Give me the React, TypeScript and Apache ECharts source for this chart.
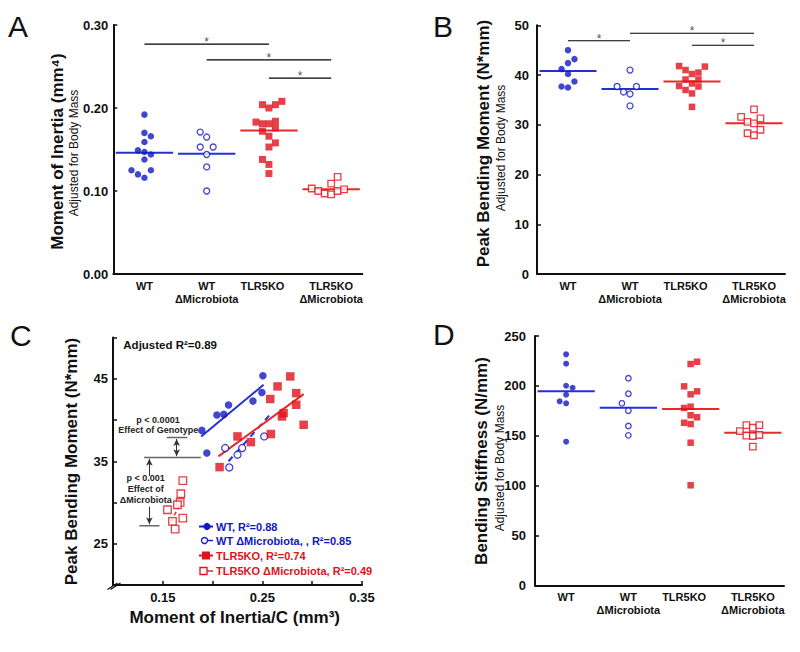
import React, { useEffect, useRef } from 'react';
import * as echarts from 'echarts';

// ---------- data ----------
const groups = ['WT', 'WT\nΔMicrobiota', 'TLR5KO', 'TLR5KO\nΔMicrobiota'];

// Panel A – Moment of inertia  ([jitter slot, value])
const moiWT = [[0, 0.192], [0, 0.170], [1, 0.166], [0, 0.159], [-1, 0.149], [0, 0.147], [1, 0.144], [0, 0.138], [-2, 0.125], [-1, 0.120], [0, 0.116], [1, 0.125]];
const moiWTdM = [[-1, 0.171], [0, 0.165], [-1, 0.153], [1, 0.153], [0, 0.144], [0, 0.129], [0, 0.100]];
const moiKO = [[-1, 0.204], [0, 0.200], [1, 0.204], [2, 0.208], [-2, 0.183], [-1, 0.181], [0, 0.181], [1, 0.184], [-1, 0.172], [1, 0.176], [0, 0.166], [1, 0.158], [0, 0.153], [-1, 0.138], [0, 0.132], [0, 0.121]];
const moiKOdM = [[-3, 0.103], [-2, 0.100], [-1, 0.097], [0, 0.096], [1, 0.100], [2, 0.102], [0, 0.109], [1, 0.117]];
const moiMeans = [0.146, 0.145, 0.173, 0.102];
const moiSig = [[1, 3, 0.277], [2, 4, 0.258], [3, 4, 0.236]];
const moiTicks = { min: 0, max: 0.3, interval: 0.1 };

// Panel B – Peak bending moment
const pbmWT = [[0, 45.0], [0, 42.4], [1, 43.2], [-1, 41.2], [0, 40.2], [1, 38.7], [-1, 37.7], [0, 37.5]];
const pbmWTdM = [[0, 41.0], [-2, 37.7], [-1, 36.6], [0, 36.2], [1, 37.7], [0, 33.8]];
const pbmKO = [[-2, 41.8], [-1, 41.0], [0, 40.2], [1, 40.5], [2, 41.7], [-1, 39.1], [1, 39.1], [-2, 37.8], [0, 38.3], [1, 37.7], [-1, 37.0], [0, 36.3], [0, 33.6]];
const pbmKOdM = [[-2, 31.6], [-1, 30.6], [0, 33.1], [0, 30.3], [1, 31.3], [-1, 28.3], [0, 27.9], [1, 29.0]];
const pbmMeans = [40.8, 37.2, 38.7, 30.3];
const pbmSig = [[1, 2, 46.9], [2, 4, 48.4], [3, 4, 46.0]];
const pbmTicks = { min: 0, max: 50, interval: 10 };

// Panel C – Peak bending moment vs Moment of inertia/C
const cWT = [[0.1892, 38.74], [0.1942, 35.99], [0.2043, 40.60], [0.2113, 40.68], [0.2160, 41.81], [0.2405, 42.29], [0.2495, 43.34], [0.2505, 45.36]];
const cWTdM = [[0.2126, 36.6], [0.2167, 34.25], [0.2250, 35.79], [0.2297, 36.6], [0.2518, 38.01]];
const cKO = [[0.2070, 34.29], [0.2250, 38.01], [0.2384, 37.32], [0.2579, 42.54], [0.2585, 38.30], [0.2652, 44.07], [0.2696, 40.43], [0.2713, 40.84], [0.2780, 45.28], [0.2840, 43.26], [0.2840, 41.85], [0.2914, 39.42]];
const cKOdM = [[0.1701, 32.64], [0.1681, 31.06], [0.1674, 30.01], [0.1647, 29.73], [0.1547, 29.12], [0.1701, 28.11], [0.1597, 27.71], [0.1624, 26.78]];
const cFitWT = [[0.1885, 38.0], [0.2512, 44.27]];
const cFitWTdM = [[0.216, 35.0], [0.258, 40.7]];
const cFitKO = [[0.2059, 35.59], [0.2914, 43.14]];
const cFitKOdM = [[0.158, 27.7], [0.170, 30.3]];
// adjusted-mean reference lines [x1, x2, y]
const cAdjLines = [[0.1312, 0.1882, 35.46], [0.154, 0.1747, 37.88], [0.1265, 0.1466, 27.18]];
// arrows [x, yFrom, yTo, doubleHeaded]
const cArrows = [[0.1639, 37.7, 35.62, 1], [0.1365, 33.2, 35.3, 0], [0.1365, 29.5, 27.35, 0]];
const cLegend = ['WT, R²=0.88', 'WT ΔMicrobiota, , R²=0.85', 'TLR5KO, R²=0.74', 'TLR5KO ΔMicrobiota, R²=0.49'];
const cXLabels = [0.15, 0.25, 0.35];
const cYLabels = [25, 35, 45];

// Panel D – Bending stiffness
const stWT = [[0, 231.6], [0, 222.2], [0, 200.1], [1, 198.1], [-1, 184.5], [0, 191.1], [0, 182.5], [0, 144]];
const stWTdM = [[0, 207.6], [0, 192.1], [-1, 182.5], [0, 175.1], [0, 159.7], [0, 150.4]];
const stKO = [[0, 221.9], [1, 224.2], [-1, 199.5], [0, 191.5], [1, 194.5], [-1, 177.8], [0, 179.1], [0, 170.5], [1, 168.5], [-1, 163], [0, 161.7], [0, 143], [0, 100.3]];
const stKOdM = [[-2, 154.7], [-1, 160.7], [0, 158], [1, 160.7], [-1, 150], [0, 149.7], [1, 150.7], [0, 139]];
const stMeans = [194.5, 178, 176.8, 153];
const stTicks = { min: 0, max: 250, interval: 50 };

// ---------- styling ----------
const FONT = '"Liberation Sans", Arial, Helvetica, sans-serif';
const INK = '#111';
const BLUE = '#1218c4';
const BLUE_LINE = '#2230d6';
const RED = '#e0121a';
const RED_LINE = '#e62a28';
const SLOT = 0.104;
const HALF = 0.46;

type Kind = 'fc' | 'oc' | 'fs' | 'os';
const kinds: Kind[] = ['fc', 'oc', 'fs', 'os'];

function symStyle(kind: Kind) {
  switch (kind) {
    case 'fc': return { symbol: 'circle', itemStyle: { color: BLUE } };
    case 'oc': return { symbol: 'circle', itemStyle: { color: '#fff', borderColor: BLUE, borderWidth: 1.3 } };
    case 'fs': return { symbol: 'rect', itemStyle: { color: RED } };
    default: return { symbol: 'rect', itemStyle: { color: '#fff', borderColor: RED, borderWidth: 1.3 } };
  }
}

const labelFont = { fontFamily: FONT, fontSize: 11, fontWeight: 'bold', color: INK, lineHeight: 13 };

function catAxis(gi: number) {
  return {
    type: 'category', gridIndex: gi, data: groups, boundaryGap: true,
    axisLine: { show: true, onZero: false, lineStyle: { color: INK, width: 2 } },
    axisTick: { show: false },
    axisLabel: {
      interval: 0, ...labelFont, margin: 5,
      formatter: (v: string) => (v === 'TLR5KO' ? '{k|TLR5KO}' : v),
      rich: { k: { ...labelFont, padding: [0, 13, 0, 0] } },
    },
    splitLine: { show: false },
  };
}
function hiddenX(gi: number) {
  return { type: 'value', gridIndex: gi, min: 0.5, max: 4.5, show: false, splitLine: { show: false } };
}
function yAxis(gi: number, t: any, margin: number, fmt: any) {
  return {
    type: 'value', gridIndex: gi, min: t.min, max: t.max, interval: t.interval,
    axisLine: { show: true, onZero: false, lineStyle: { color: INK, width: 2 } },
    axisTick: { show: true, inside: true, length: 4, lineStyle: { color: INK, width: 1.5 } },
    axisLabel: { color: INK, fontFamily: FONT, fontSize: 13, fontWeight: 'bold', margin, formatter: fmt },
    splitLine: { show: false },
  };
}

function dotPanel(xi: number, yi: number, sets: number[][][], means: number[], sig: number[][], sizes: number[]) {
  const s: any[] = [];
  sets.forEach((pts, i) => {
    s.push({
      type: 'scatter', xAxisIndex: xi, yAxisIndex: yi, silent: true, z: 3,
      symbolSize: sizes[i], ...symStyle(kinds[i]),
      data: pts.map(([j, v]) => [i + 1 + j * SLOT, v]),
    });
    s.push({
      type: 'line', xAxisIndex: xi, yAxisIndex: yi, silent: true, z: 2, symbol: 'none',
      lineStyle: { color: i < 2 ? BLUE_LINE : RED_LINE, width: 2 },
      data: [[i + 1 - HALF, means[i]], [i + 1 + HALF, means[i]]],
    });
  });
  sig.forEach(([a, b, y]) => {
    s.push({
      type: 'line', xAxisIndex: xi, yAxisIndex: yi, silent: true, symbol: 'none',
      lineStyle: { color: '#000', width: 1.1 }, data: [[a, y], [b, y]],
    });
    s.push({
      type: 'scatter', xAxisIndex: xi, yAxisIndex: yi, silent: true, symbolSize: 1,
      itemStyle: { color: 'rgba(0,0,0,0)' },
      label: { show: true, position: 'inside', offset: [0, -2], formatter: '*', color: '#222', fontSize: 12, fontFamily: FONT },
      data: [[(a + b) / 2, y]],
    });
  });
  return s;
}

function txt(text: string, x: number, y: number, o: any = {}) {
  const align = o.align || 'center';
  return {
    type: 'text', x, y, rotation: o.rot || 0, silent: true, z: 100,
    style: {
      text, fill: o.color || INK, fontFamily: FONT, fontSize: o.size || 12, fontWeight: o.weight || 'normal',
      textAlign: align, textVerticalAlign: 'middle', align, verticalAlign: 'middle',
    },
  };
}
function gline(x1: number, y1: number, x2: number, y2: number, stroke: string, w: number) {
  return { type: 'line', silent: true, z: 100, shape: { x1, y1, x2, y2 }, style: { stroke, lineWidth: w } };
}

function buildOption() {
  const R = Math.PI / 2;
  const legendRows = [
    { y: 526.5, kind: 'fc', color: BLUE },
    { y: 540.5, kind: 'oc', color: BLUE },
    { y: 555.5, kind: 'fs', color: RED },
    { y: 571, kind: 'os', color: RED },
  ];
  const legendGraphics: any[] = [];
  legendRows.forEach((r, i) => {
    const filled = r.kind === 'fc' || r.kind === 'fs';
    legendGraphics.push(gline(filled ? 199 : 206, r.y, 213, r.y, r.color, filled ? 2 : 1.4));
    if (r.kind === 'fc') legendGraphics.push({ type: 'circle', silent: true, z: 101, shape: { cx: 207, cy: r.y, r: 3.6 }, style: { fill: r.color } });
    if (r.kind === 'oc') legendGraphics.push({ type: 'circle', silent: true, z: 101, shape: { cx: 204.5, cy: r.y, r: 3 }, style: { fill: '#fff', stroke: r.color, lineWidth: 1.3 } });
    if (r.kind === 'fs') legendGraphics.push({ type: 'rect', silent: true, z: 101, shape: { x: 202, y: r.y - 4, width: 8, height: 8 }, style: { fill: r.color } });
    if (r.kind === 'os') legendGraphics.push({ type: 'rect', silent: true, z: 101, shape: { x: 200, y: r.y - 3.5, width: 7, height: 7 }, style: { fill: '#fff', stroke: r.color, lineWidth: 1.3 } });
    legendGraphics.push(txt(cLegend[i], 216, r.y, { align: 'left', size: 11, weight: 'bold', color: r.color }));
  });

  const cSeries: any[] = [
    { type: 'scatter', xAxisIndex: 4, yAxisIndex: 2, silent: true, z: 3, symbolSize: 7.5, ...symStyle('fc'), data: cWT },
    { type: 'scatter', xAxisIndex: 4, yAxisIndex: 2, silent: true, z: 3, symbolSize: 7, ...symStyle('oc'), data: cWTdM },
    { type: 'scatter', xAxisIndex: 4, yAxisIndex: 2, silent: true, z: 3, symbolSize: 8.5, ...symStyle('fs'), data: cKO },
    { type: 'scatter', xAxisIndex: 4, yAxisIndex: 2, silent: true, z: 3, symbolSize: 7.5, ...symStyle('os'), data: cKOdM },
    { type: 'line', xAxisIndex: 4, yAxisIndex: 2, silent: true, symbol: 'none', lineStyle: { color: BLUE_LINE, width: 2 }, data: cFitWT },
    { type: 'line', xAxisIndex: 4, yAxisIndex: 2, silent: true, symbol: 'none', lineStyle: { color: BLUE_LINE, width: 2, type: [6, 5] }, data: cFitWTdM },
    { type: 'line', xAxisIndex: 4, yAxisIndex: 2, silent: true, symbol: 'none', lineStyle: { color: RED_LINE, width: 2 }, data: cFitKO },
    { type: 'line', xAxisIndex: 4, yAxisIndex: 2, silent: true, symbol: 'none', lineStyle: { color: RED_LINE, width: 1.5, type: [4, 3] }, data: cFitKOdM },
  ];
  cAdjLines.forEach(([x1, x2, y], i) => {
    const s: any = {
      type: 'line', xAxisIndex: 4, yAxisIndex: 2, silent: true, symbol: 'none',
      lineStyle: { color: '#666', width: 1.5 }, data: [[x1, y], [x2, y]],
    };
    if (i === 0) {
      s.markLine = {
        silent: true, animation: false, symbolSize: [5, 7],
        lineStyle: { color: '#333', width: 1, type: 'solid' },
        label: { show: false }, emphasis: { disabled: true },
        data: cArrows.map(([x, ya, yb, both]) => [
          { coord: [x, ya], symbol: both ? 'arrow' : 'none' },
          { coord: [x, yb], symbol: 'arrow' },
        ]),
      };
    }
    cSeries.push(s);
  });

  return {
    animation: false,
    backgroundColor: '#fff',
    grid: [
      { left: 113.3, top: 25, width: 249, height: 249, outerBoundsMode: 'none' },
      { left: 537, top: 25.3, width: 248, height: 248.7, outerBoundsMode: 'none' },
      { left: 113, top: 337.5, width: 249, height: 247.5, outerBoundsMode: 'none' },
      { left: 535, top: 336, width: 249, height: 249.3, outerBoundsMode: 'none' },
    ],
    xAxis: [
      catAxis(0), hiddenX(0),
      catAxis(1), hiddenX(1),
      {
        type: 'value', gridIndex: 2, min: 0.1, max: 0.35, interval: 0.05,
        axisLine: { show: true, onZero: false, lineStyle: { color: INK, width: 2 } },
        axisTick: { show: true, inside: true, length: 4, lineStyle: { color: INK, width: 1.5 } },
        axisLabel: {
          color: INK, fontFamily: FONT, fontSize: 13, fontWeight: 'bold', margin: 6, showMinLabel: true, showMaxLabel: true,
          formatter: (v: number) => {
            const hit = cXLabels.find((c) => Math.abs(c - v) < 1e-6);
            return hit !== undefined ? hit.toFixed(2) : '';
          },
        },
        splitLine: { show: false },
      },
      catAxis(3), hiddenX(3),
    ],
    yAxis: [
      yAxis(0, moiTicks, 5, (v: number) => v.toFixed(2)),
      yAxis(1, pbmTicks, 8, (v: number) => String(Math.round(v))),
      yAxis(2, { min: 20, max: 50, interval: 5 }, 5, (v: number) => (cYLabels.includes(Math.round(v)) ? String(Math.round(v)) : '')),
      yAxis(3, stTicks, 9, (v: number) => String(Math.round(v))),
    ],
    series: [
      ...dotPanel(1, 0, [moiWT, moiWTdM, moiKO, moiKOdM], moiMeans, moiSig, [6.5, 6, 7, 6.5]),
      ...dotPanel(3, 1, [pbmWT, pbmWTdM, pbmKO, pbmKOdM], pbmMeans, pbmSig, [6.5, 6, 6.5, 6.5]),
      ...cSeries,
      ...dotPanel(6, 3, [stWT, stWTdM, stKO, stKOdM], stMeans, [], [6, 5.5, 6.5, 6.5]),
    ],
    graphic: [
      // panel letters
      txt('A', 8, 26.5, { align: 'left', size: 30 }),
      txt('B', 433, 26.5, { align: 'left', size: 30 }),
      txt('C', 10, 335.5, { align: 'left', size: 30 }),
      txt('D', 433, 334.5, { align: 'left', size: 30 }),
      // axis titles
      txt('Moment of Inertia (mm⁴)', 57.5, 151.5, { rot: R, size: 17, weight: 'bold' }),
      txt('Adjusted for Body Mass', 73.5, 153, { rot: R, size: 12 }),
      txt('Peak Bending Moment (N*mm)', 483, 143.5, { rot: R, size: 17, weight: 'bold' }),
      txt('Adjusted for Body Mass', 501, 148, { rot: R, size: 12 }),
      txt('Peak Bending Moment (N*mm)', 71, 461.5, { rot: R, size: 17, weight: 'bold' }),
      txt('Moment of Inertia/C (mm³)', 234.7, 617.5, { size: 17, weight: 'bold' }),
      txt('Bending Stiffness (N/mm)', 481.7, 461, { rot: R, size: 17, weight: 'bold' }),
      txt('Adjusted for Body Mass', 499.5, 468, { rot: R, size: 12 }),
      // panel C annotations
      txt('Adjusted R²=0.89', 123.3, 345, { align: 'left', size: 11.5, weight: 'bold' }),
      txt('p < 0.0001', 158, 420, { size: 9, weight: 'bold', color: '#222' }),
      txt('Effect of Genotype', 158.3, 430, { size: 9, weight: 'bold', color: '#222' }),
      txt('p < 0.001', 145.7, 478.3, { size: 9, weight: 'bold', color: '#222' }),
      txt('Effect of', 145.7, 489.3, { size: 9, weight: 'bold', color: '#222' }),
      txt('ΔMicrobiota', 145.7, 500, { size: 9, weight: 'bold', color: '#222' }),
      // axis break mark
      gline(107.5, 589.5, 117.5, 583, INK, 1.3),
      gline(110.5, 589.5, 120.5, 583, INK, 1.3),
      ...legendGraphics,
    ],
  };
}

export default function App() {
  const ref = useRef<HTMLDivElement>(null);
  useEffect(() => {
    if (!ref.current) return;
    const chart = echarts.init(ref.current, null, { renderer: 'svg', width: 800, height: 652 });
    chart.setOption(buildOption() as any);
    return () => chart.dispose();
  }, []);
  return (
    <div
      ref={ref}
      style={{ position: 'fixed', left: 0, top: 0, width: 800, height: 652, background: '#fff' }}
    />
  );
}
